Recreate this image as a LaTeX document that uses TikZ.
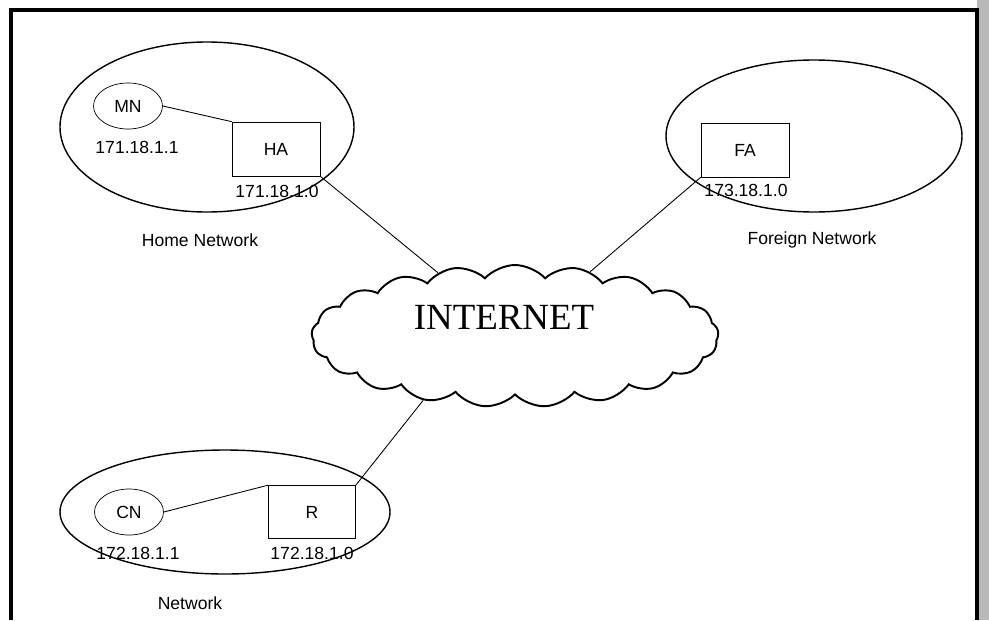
\documentclass[tikz,border=0pt]{standalone}
\usepackage{fontspec}
\setmainfont{Liberation Sans}
\newfontfamily\netserif{Liberation Serif}
\usetikzlibrary{shapes.geometric,shapes.symbols}
\begin{document}
\begin{tikzpicture}[font=\fontsize{10}{12}\selectfont,
    host/.style={draw,ellipse,inner sep=0pt,minimum width=1.38cm,minimum height=0.92cm},
    agent/.style={draw,rectangle,inner sep=0pt,minimum width=1.76cm,minimum height=1.08cm},
    link/.style={line width=0.5pt}]
\useasboundingbox (0,0) rectangle (19.78,12.4);
% frame and grey edge
\fill[gray!55] (19.54,0) rectangle (19.78,12.4);
\draw[line width=1.8pt] (0.22,0)--(0.22,12.2)--(19.54,12.2)--(19.54,0);

% the three networks
\foreach \c/\rx/\ry in {{(4.14,9.86)}/2.94/1.70, {(16.28,9.68)}/2.96/1.52, {(4.50,2.16)}/3.30/1.24}
{
    \draw[line width=0.8pt] \c ellipse ({\rx} and {\ry});
}

\node[host] (mn) at (2.56,10.28) {MN};
\node[agent] (ha) at (5.52,9.42) {HA};
\node[agent] (fa) at (14.90,9.40) {FA};
\node[host] (cn) at (2.58,2.16) {CN};
\node[agent,minimum width=1.74cm,minimum height=1.06cm] (r) at (6.24,2.16) {R};

\node (mnip) at (2.74,9.46) {171.18.1.1};
\node (haip) at (5.54,8.58) {171.18.1.0};
\node (faip) at (14.92,8.60) {173.18.1.0};
\node (cnip) at (2.76,1.34) {172.18.1.1};
\node (rip) at (6.24,1.34) {172.18.1.0};

\node (home) at (4.00,7.60) {Home Network};
\node (foreign) at (16.24,7.60) {Foreign Network};
\node (net) at (3.80,0.34) {Network};

% internet cloud
\node[cloud,draw,line width=1.1pt,cloud puffs=21,cloud puff arc=95,cloud ignores aspect,
      minimum width=8.14cm,minimum height=2.84cm,inner sep=0pt] (inet) at (10.30,5.68) {};
\node[font=\netserif\fontsize{21}{24}\selectfont] (inettxt) at (10.08,6.06) {INTERNET};

\draw[link] (mn.east)--(ha.north west);
\draw[link] (ha.south east)--(inet);
\draw[link] (fa.south west)--(inet);
\draw[link] (r.north east)--(inet.215);
\draw[link] (cn.east)--(r.north west);
\end{tikzpicture}
\end{document}
